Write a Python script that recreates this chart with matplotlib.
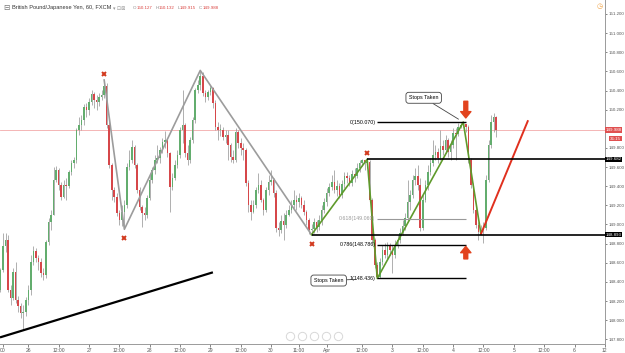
import numpy as np
import matplotlib.pyplot as plt
from matplotlib.transforms import offset_copy

plt.rcParams['font.family'] = ['Liberation Sans', 'DejaVu Sans']

# GBP/JPY, 60 min, FXCM - hourly candles
first_open = 148.32
closes = [148.52, 148.77, 148.84, 148.32, 148.23, 148.50, 148.21, 148.15, 148.07, 148.09,
          148.21, 148.32, 148.61, 148.72, 148.65, 148.61, 148.49, 148.47, 148.82, 149.03,
          149.10, 149.47, 149.57, 149.41, 149.29, 149.41, 149.40, 149.55, 149.64, 149.67,
          149.99, 150.04, 150.09, 150.23, 150.20, 150.28, 150.36, 150.30, 150.28, 150.33,
          150.35, 150.45, 150.04, 149.62, 149.36, 149.29, 149.12, 149.05, 149.13, 149.20,
          149.60, 149.67, 149.81, 149.62, 149.36, 149.18, 149.12, 149.10, 149.28, 149.47,
          149.57, 149.67, 149.70, 149.78, 149.86, 149.88, 149.75, 149.39, 149.49, 149.62,
          149.73, 149.99, 150.04, 149.75, 149.67, 149.88, 150.09, 150.41, 150.46, 150.55,
          150.37, 150.33, 150.38, 150.43, 150.27, 150.02, 149.99, 149.99, 149.91, 149.94,
          149.83, 149.71, 149.67, 149.97, 149.85, 149.80, 149.78, 149.43, 149.20, 149.13,
          149.20, 149.36, 149.41, 149.26, 149.15, 149.36, 149.44, 149.47, 149.33, 148.96,
          148.94, 149.04, 148.99, 149.10, 149.15, 149.20, 149.26, 149.23, 149.28, 149.20,
          149.13, 149.05, 148.94, 148.95, 149.03, 148.97, 149.05, 149.15, 149.23, 149.33,
          149.39, 149.44, 149.36, 149.40, 149.31, 149.42, 149.51, 149.49, 149.43, 149.53,
          149.51, 149.59, 149.64, 149.67, 149.64, 149.65, 149.26, 148.84, 148.58, 148.45,
          148.61, 148.73, 148.68, 148.77, 148.73, 148.68, 148.79, 148.84, 148.91, 148.98,
          149.07, 149.24, 149.31, 149.47, 149.51, 149.41, 148.96, 149.26, 149.41, 149.55,
          149.64, 149.73, 149.76, 149.70, 149.82, 149.78, 149.88, 149.76, 149.83, 149.96,
          149.95, 150.02, 150.04, 150.05, 150.02, 149.67, 149.41, 149.15, 148.99, 148.92,
          148.94, 148.96, 149.47, 149.83, 150.07, 150.127, 149.988]
highs = [148.55, 148.91, 148.91, 148.89, 148.37, 148.55, 148.61, 148.25, 148.18, 148.16,
         148.24, 148.37, 148.68, 148.78, 148.75, 148.68, 148.65, 148.55, 148.84, 149.07,
         149.15, 149.60, 149.61, 149.59, 149.44, 149.47, 149.49, 149.57, 149.67, 149.71,
         150.01, 150.12, 150.14, 150.26, 150.27, 150.32, 150.41, 150.38, 150.35, 150.37,
         150.41, 150.51, 150.48, 150.07, 149.64, 149.39, 149.33, 149.15, 149.20, 149.26,
         149.64, 149.78, 149.88, 149.83, 149.64, 149.39, 149.20, 149.18, 149.31, 149.52,
         149.60, 149.73, 149.83, 149.81, 149.90, 149.98, 149.90, 149.76, 149.54, 149.67,
         149.78, 150.02, 150.41, 150.06, 149.83, 149.91, 150.12, 150.43, 150.51, 150.61,
         150.59, 150.41, 150.41, 150.46, 150.44, 150.30, 150.07, 150.05, 150.02, 149.99,
         149.99, 149.85, 149.78, 150.01, 149.99, 149.90, 149.85, 149.80, 149.47, 149.26,
         149.26, 149.39, 149.54, 149.47, 149.28, 149.39, 149.52, 149.57, 149.49, 149.36,
         149.03, 149.10, 149.12, 149.15, 149.20, 149.26, 149.36, 149.31, 149.33, 149.30,
         149.26, 149.15, 149.07, 149.00, 149.07, 149.05, 149.10, 149.20, 149.28, 149.38,
         149.43, 149.52, 149.57, 149.47, 149.43, 149.47, 149.55, 149.55, 149.52, 149.57,
         149.59, 149.64, 149.67, 149.68, 149.67, 149.682, 149.67, 149.28, 148.86, 148.61,
         148.65, 148.79, 148.81, 148.82, 148.81, 148.79, 148.84, 148.89, 148.96, 149.05,
         149.12, 149.47, 149.36, 149.52, 149.59, 149.62, 149.49, 149.31, 149.47, 149.62,
         149.70, 149.88, 149.83, 149.80, 149.99, 149.88, 149.94, 149.90, 149.88, 150.01,
         150.01, 150.06, 150.06, 150.07, 150.05, 150.04, 149.70, 149.43, 149.17, 149.03,
         148.99, 149.03, 149.52, 149.88, 150.14, 150.17, 150.132]
lows = [148.29, 148.50, 148.71, 148.29, 148.16, 148.21, 148.18, 148.09, 148.02, 147.90,
        148.04, 148.16, 148.26, 148.58, 148.61, 148.52, 148.45, 148.42, 148.44, 148.79,
        148.94, 149.15, 149.44, 149.36, 149.26, 149.28, 149.26, 149.38, 149.52, 149.59,
        149.64, 149.94, 149.99, 150.04, 150.12, 150.14, 150.25, 150.22, 150.20, 150.24,
        150.30, 150.32, 150.01, 149.59, 149.26, 149.24, 149.09, 148.99, 148.98, 148.95,
        149.17, 149.57, 149.64, 149.59, 149.33, 149.15, 148.97, 149.05, 149.07, 149.26,
        149.43, 149.53, 149.64, 149.64, 149.75, 149.80, 149.71, 149.13, 149.36, 149.47,
        149.59, 149.70, 149.85, 149.71, 149.62, 149.64, 149.85, 150.06, 150.37, 150.41,
        150.34, 150.28, 150.30, 150.35, 150.22, 149.99, 149.88, 149.92, 149.88, 149.85,
        149.67, 149.65, 149.64, 149.65, 149.80, 149.73, 149.67, 149.40, 149.13, 149.05,
        149.12, 149.17, 149.33, 149.23, 149.10, 149.13, 149.31, 149.41, 149.29, 148.92,
        148.88, 148.91, 148.84, 148.96, 149.09, 149.12, 149.17, 149.15, 149.18, 149.17,
        149.10, 148.99, 148.90, 148.893, 148.91, 148.92, 148.94, 148.99, 149.12, 149.19,
        149.30, 149.36, 149.33, 149.30, 149.28, 149.28, 149.38, 149.43, 149.40, 149.40,
        149.44, 149.49, 149.55, 149.61, 149.57, 149.59, 149.23, 148.81, 148.55, 148.436,
        148.44, 148.58, 148.65, 148.63, 148.68, 148.49, 148.65, 148.75, 148.81, 148.89,
        148.94, 149.05, 149.15, 149.28, 149.41, 149.36, 148.93, 148.94, 149.23, 149.36,
        149.52, 149.61, 149.67, 149.64, 149.67, 149.73, 149.75, 149.71, 149.67, 149.80,
        149.67, 149.92, 150.01, 150.02, 149.97, 149.64, 149.38, 149.12, 148.96, 148.84,
        148.90, 148.81, 148.94, 149.44, 149.80, 149.97, 149.915]
assert len(closes) == len(highs) == len(lows)

# time axis in hours (candle i sits at hour i-1)
tick_hours = [0, 10, 22, 34, 46, 58, 70, 82, 94, 106, 117, 128, 142, 154, 166, 178, 190, 202, 214, 226, 238]
tick_labels = ['00', '26', '12:00', '27', '12:00', '28', '12:00', '29', '12:00', '30', '11:00',
               'Apr', '12:00', '3', '12:00', '4', '12:00', '5', '12:00', '6', '12']
price_ticks = [147.8, 148.0, 148.2, 148.4, 148.6, 148.8, 149.0, 149.2, 149.4, 149.6,
               149.8, 150.0, 150.2, 150.4, 150.6, 150.8, 151.0, 151.2]

# drawings
level_hi = 149.682
level_lo = 148.893
fib_top = 150.070
fib_bottom = 148.436
fib_ratios = [0, 0.618, 0.786, 1]
grey_swings = [(41, 'H'), (49, 'L'), (79, 'H'), (123, 'L')]
green_swings = [(123, 'L'), (145, 'H'), (149, 'L'), (183, 'H'), (190, 'L')]
x_marks = [(41, 'H'), (49, 'L'), (123, 'L'), (145, 'H')]
proj_end = (207.5, 150.08)          # red projection line target
trend_t = [-1.2, 83.0]              # black support trendline
trend_p = [147.82, 148.50]
countdown = '36:15'

UP, DOWN, WICK = '#63ad6e', '#d6474a', '#9a9a9a'
SMALL = 3.2

fig = plt.figure(figsize=(6.25, 3.53), dpi=100)
ax = fig.add_axes([0, 9 / 353, 605 / 625, 344 / 353])
ax.set_xlim(-1.19, 238.05)
ax.set_ylim(147.751, 151.346)

t = np.arange(len(closes)) - 1.0
c = np.array(closes)
o = np.array([first_open] + closes[:-1])
h = np.maximum(np.array(highs), np.maximum(o, c))
lo = np.minimum(np.array(lows), np.minimum(o, c))
cols = [UP if cc >= oo else DOWN for oo, cc in zip(o, c)]

ax.axhline(closes[-1], color='#f2aaaa', lw=0.6, zorder=1)
ax.vlines(t, lo, h, color=WICK, lw=0.55, zorder=2)
ax.bar(t, np.maximum(np.abs(c - o), 0.008), bottom=np.minimum(o, c), width=0.62,
       color=cols, linewidth=0, zorder=3)


def swing(k, kind):
    return t[k], (h[k] if kind == 'H' else lo[k])


gx, gy = zip(*[swing(k, s) for k, s in grey_swings])
ax.plot(gx, gy, color='#9c9c9c', lw=1.2, zorder=4)
nx, ny = zip(*[swing(k, s) for k, s in green_swings])
ax.plot(nx, ny, color='#5f9a2c', lw=1.2, zorder=4)
sx, sy = swing(*green_swings[-1])
ax.plot([sx, proj_end[0]], [sy, proj_end[1]], color='#e0301e', lw=1.4, zorder=4)

ax.plot(trend_t, trend_p, color='black', lw=1.6, zorder=4, solid_capstyle='butt')

# red x pivot markers
up_tr = offset_copy(ax.transData, fig=fig, x=0, y=6, units='dots')
dn_tr = offset_copy(ax.transData, fig=fig, x=0, y=-9, units='dots')
for k, s in x_marks:
    px, py = swing(k, s)
    ax.plot(px, py, marker='x', ms=3.2, mew=1.4, color='#d23a1e',
            transform=up_tr if s == 'H' else dn_tr, zorder=5)

# horizontal levels
ax.hlines(level_hi, t[145], 238.05, color='black', lw=1.2, zorder=4)
ax.hlines(level_lo, t[123], 238.05, color='black', lw=1.2, zorder=4)

# fib retracement
for r in fib_ratios:
    lvl = fib_top - r * (fib_top - fib_bottom)
    col = '#999999' if r == 0.618 else 'black'
    ax.hlines(lvl, t[149], t[184], color=col, lw=1.0 if col == 'black' else 0.8, zorder=4)
    ax.text(t[149] - 0.8, lvl, f'{r:g}({lvl:.3f})', ha='right', va='center',
            fontsize=3.8, color=col, zorder=6)

# callouts
box = dict(boxstyle='round,pad=0.55,rounding_size=0.5', fc='white', ec='#444444', lw=0.6)
ax.annotate('Stops Taken', xy=swing(149, 'L'), xytext=(-35, -1.5), textcoords='offset points',
            fontsize=3.9, ha='center', va='center', bbox=box, zorder=7,
            arrowprops=dict(arrowstyle='-', color='#444444', lw=0.6, shrinkA=0, shrinkB=15))
ax.annotate('Stops Taken', xy=swing(183, 'H'), xytext=(-28.5, 17.5), textcoords='offset points',
            fontsize=3.9, ha='center', va='center', bbox=box, zorder=7,
            arrowprops=dict(arrowstyle='-', color='#444444', lw=0.6, shrinkA=0, shrinkB=4))

# big red arrows
arrow = dict(arrowstyle='simple,head_length=0.65,head_width=1.05,tail_width=0.4',
             color='#e2431e', mutation_scale=7)
ax.annotate('', xy=(t[184], fib_top), xytext=(0, 15), textcoords='offset points',
            arrowprops=dict(arrow, shrinkA=0, shrinkB=3), zorder=7)
ax.annotate('', xy=(t[184], fib_top - 0.786 * (fib_top - fib_bottom)), xytext=(0, -10),
            textcoords='offset points', arrowprops=dict(arrow, shrinkA=0, shrinkB=1), zorder=7)

# axes styling
for side in ['left', 'top']:
    ax.spines[side].set_visible(False)
for side in ['right', 'bottom']:
    ax.spines[side].set_color('#9a9a9a')
    ax.spines[side].set_linewidth(0.7)
ax.yaxis.tick_right()
# the scale hides a tick label that sits under the last-price tag
ax.set_yticks(price_ticks, ['' if abs(p - closes[-1]) < 0.05 else f'{p:.3f}' for p in price_ticks])
ax.set_xticks(tick_hours, tick_labels)
ax.tick_params(axis='y', labelsize=SMALL, colors='#555555', length=1.5, width=0.5, pad=0.8)
ax.tick_params(axis='x', labelsize=3.6, colors='#555555', length=2, width=0.5, pad=1)

# price tags on the scale
ytr = ax.get_yaxis_transform()


def tag(y, txt, fc, x=1.001):
    ax.text(x, y, txt, transform=ytr, fontsize=SMALL, color='white', va='center', ha='left',
            bbox=dict(boxstyle='square,pad=0.15', fc=fc, ec='none'), clip_on=False, zorder=8)


tag(closes[-1], f'{closes[-1]:.3f}', '#e05050')
tag(closes[-1] - 0.092, countdown, '#e05050', x=1.008)
tag(level_hi, f'{level_hi:.3f}', 'black')
tag(level_lo, f'{level_lo:.3f}', 'black')

# header, laid out left to right
fig.canvas.draw()
rend = fig.canvas.get_renderer()
head_y = 1 - 8 / 353


def put(x_px, txt, size, color):
    tx = fig.text(x_px / 625, head_y, txt, fontsize=size, color=color, va='center')
    return tx.get_window_extent(rend).x1


put(3, '⊟', 5.5, '#777777')
x = put(12, 'British Pound/Japanese Yen, 60, FXCM', 4.1, '#333333')
put(x + 2, '▾ ⊡⊠', 3.6, '#999999')
x = 133
for lab, val in [('O', o[-1]), ('H', h[-1]), ('L', lo[-1]), ('C', c[-1])]:
    x = put(x, lab, 3.2, '#888888')
    x = put(x + 0.5, f'{val:.3f}', 3.2, '#d9413e') + 2.5

# small ui bits
fig.text(600 / 625, 1 - 7 / 353, '◷', fontsize=5, color='#f0a040', va='center', ha='center')
for cx in [290, 302, 314, 326, 338]:
    ax.plot(cx / 605, 8 / 344, marker='o', ms=6, mfc='white', mec='#d8d8d8', mew=0.7,
            transform=ax.transAxes, clip_on=False, zorder=6)

fig.savefig('out.png', dpi=100)
